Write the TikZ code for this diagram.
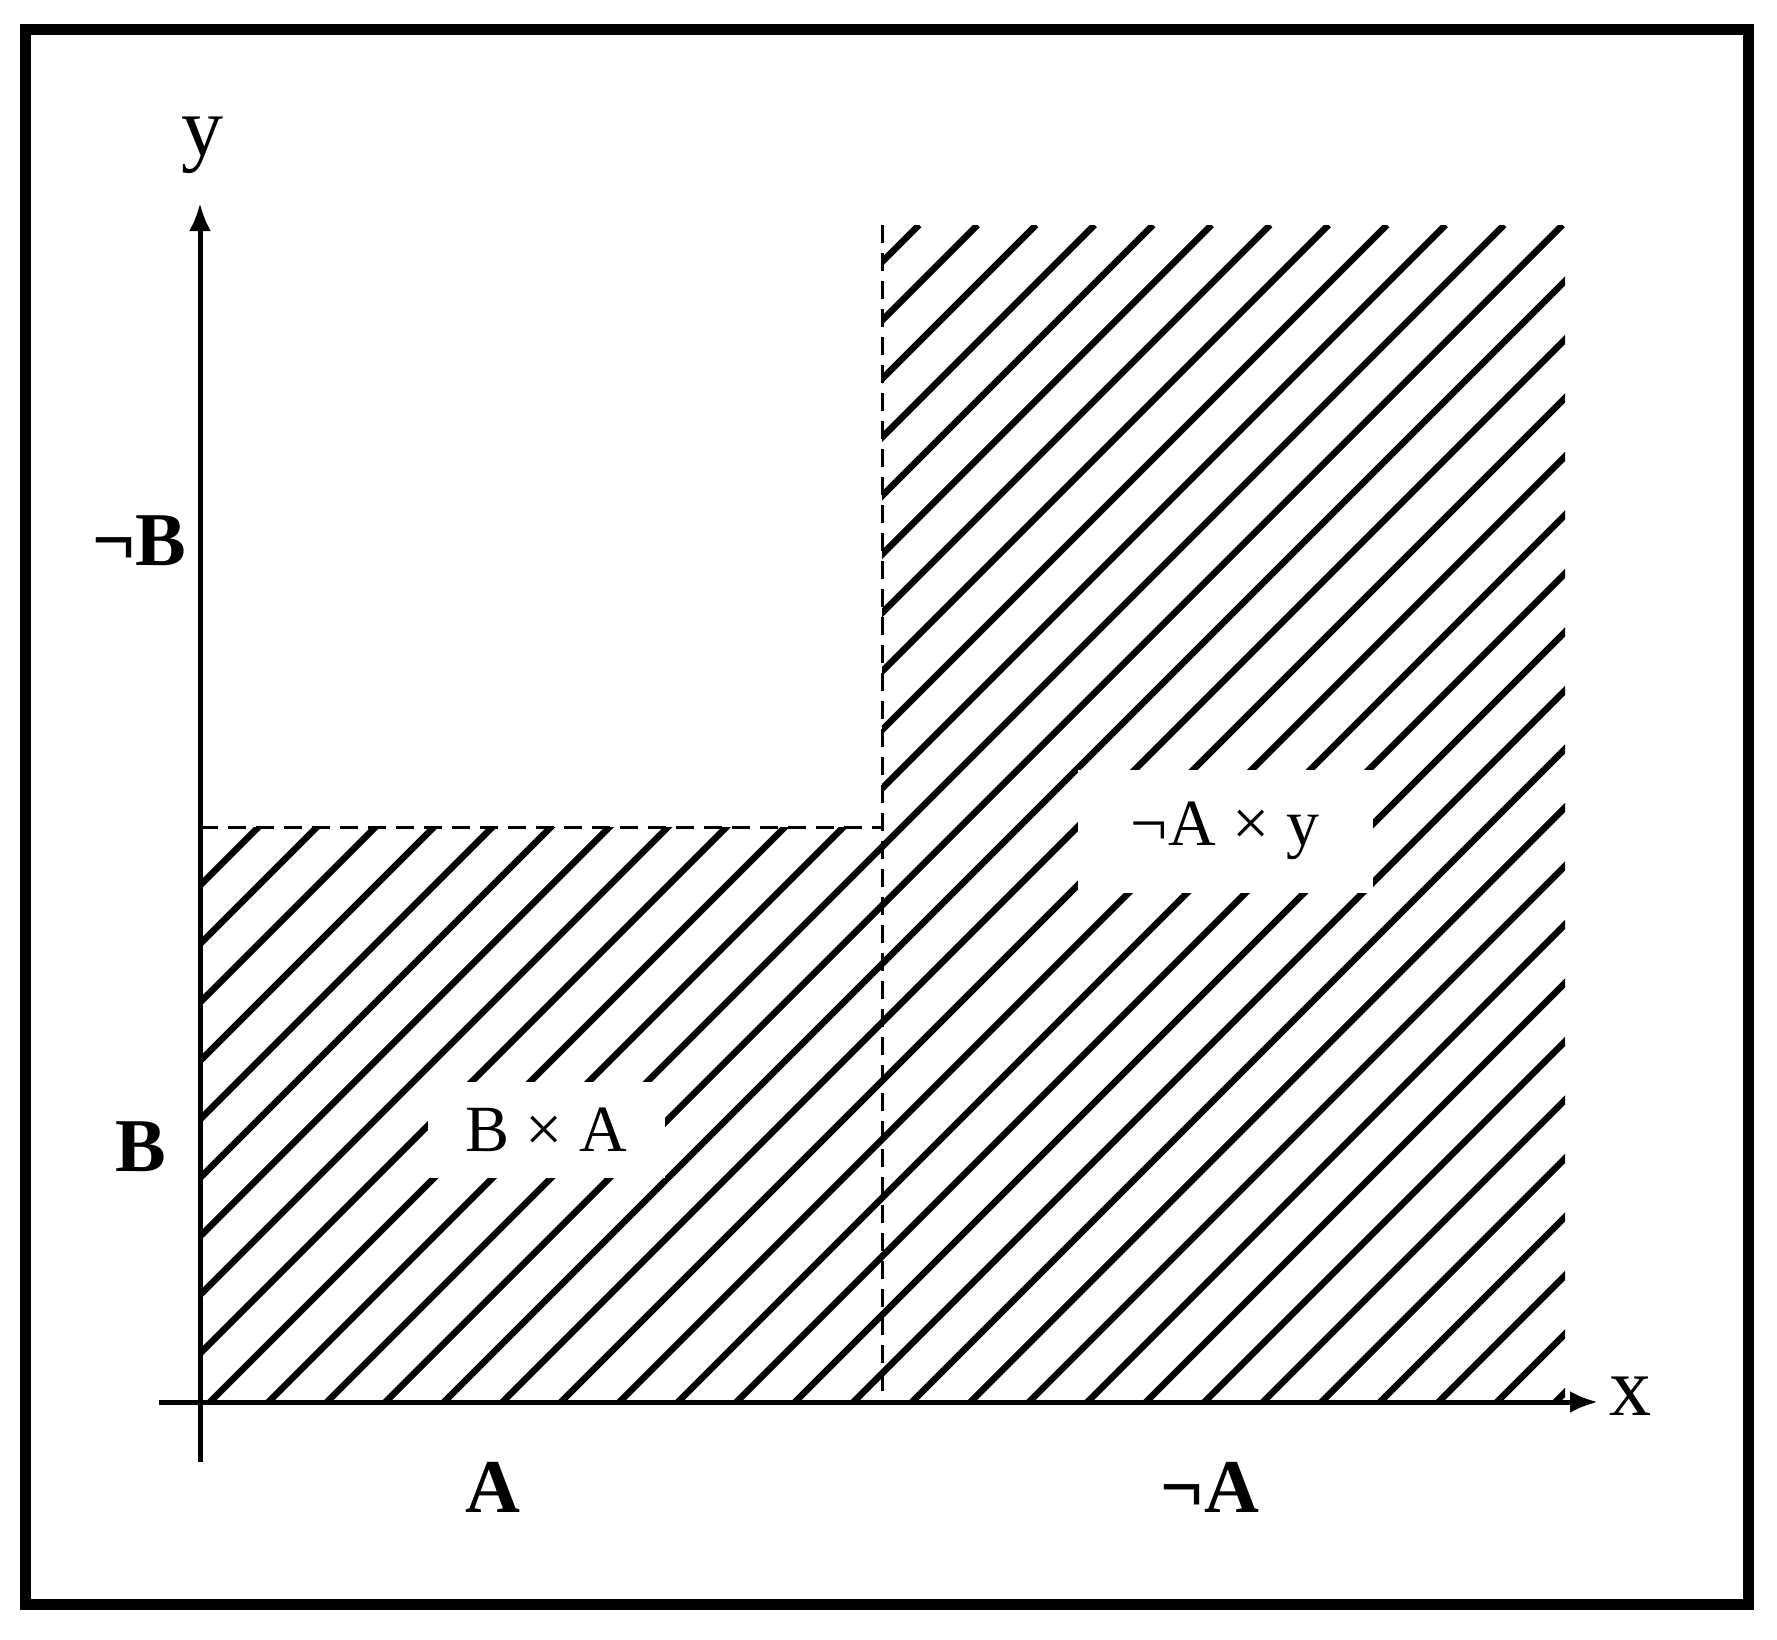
\documentclass[tikz,border=0pt]{standalone}
\usepackage{fontspec}
\setmainfont{Liberation Serif}
\usetikzlibrary{arrows.meta,positioning}

\tikzset{
  axis/.style={line width=5pt, -{Latex[length=28pt,width=22pt]}},
  hatch/.style={line width=6.5pt},
  border/.style={line width=3pt, dash pattern=on 18pt off 10pt},
  biglab/.style={inner sep=0pt, font=\bfseries\fontsize{76}{80}\selectfont},
  axlab/.style={inner sep=0pt, font=\fontsize{84}{90}\selectfont},
  setlab/.style={fill=white, inner sep=0pt, font=\fontsize{66}{70}\selectfont}
}

\begin{document}
\begin{tikzpicture}[x=1pt,y=-1pt]
    \useasboundingbox (0,0) rectangle (1777,1639);
    \draw [line width=11pt] (25,29) rectangle (1748,1604);
    \coordinate (O) at (200,1402);
    \coordinate (C) at (882,827);
    \coordinate (Ctop) at (882,225);
    \coordinate (Cbot) at (882,1402);
    \coordinate (Bup) at (200,827);
    \begin{scope}
        \clip (O) -- (Bup) -- (C) -- (Ctop) -- (1565,225) -- (1565,1402) -- cycle;
        \foreach \k in {-10,...,23}
            \draw [hatch] ({1612+58.5*\k-1402},1402) -- ({1612+58.5*\k-225},225);
    \end{scope}
    \draw [border] (Bup) -- (C);
    \draw [border] (Ctop) -- (Cbot);
    \node [setlab, minimum width=237pt, minimum height=96pt] (BxA) at (546,1130) {B × A};
    \node [setlab, minimum width=295pt, minimum height=123pt] (nAxy) at (1225,831) {¬A × y};
    \coordinate (xs) at (159,1402);
    \coordinate (xe) at (1598,1402);
    \coordinate (ys) at (200,1462);
    \coordinate (ye) at (200,203);
    \draw [axis] (xs) -- (xe);
    \draw [axis] (ys) -- (ye);
    \node [axlab] (xlab) at (1630,1396) {x};
    \node [axlab] (ylab) at (202,145) {y};
    \node [biglab] (nB) at (139,541) {¬B};
    \node [biglab] (B) at (141,1147) {B};
    \node [biglab] (A) at (493,1487) {A};
    \node [biglab] (nA) at (1210,1487) {¬A};
\end{tikzpicture}
\end{document}
